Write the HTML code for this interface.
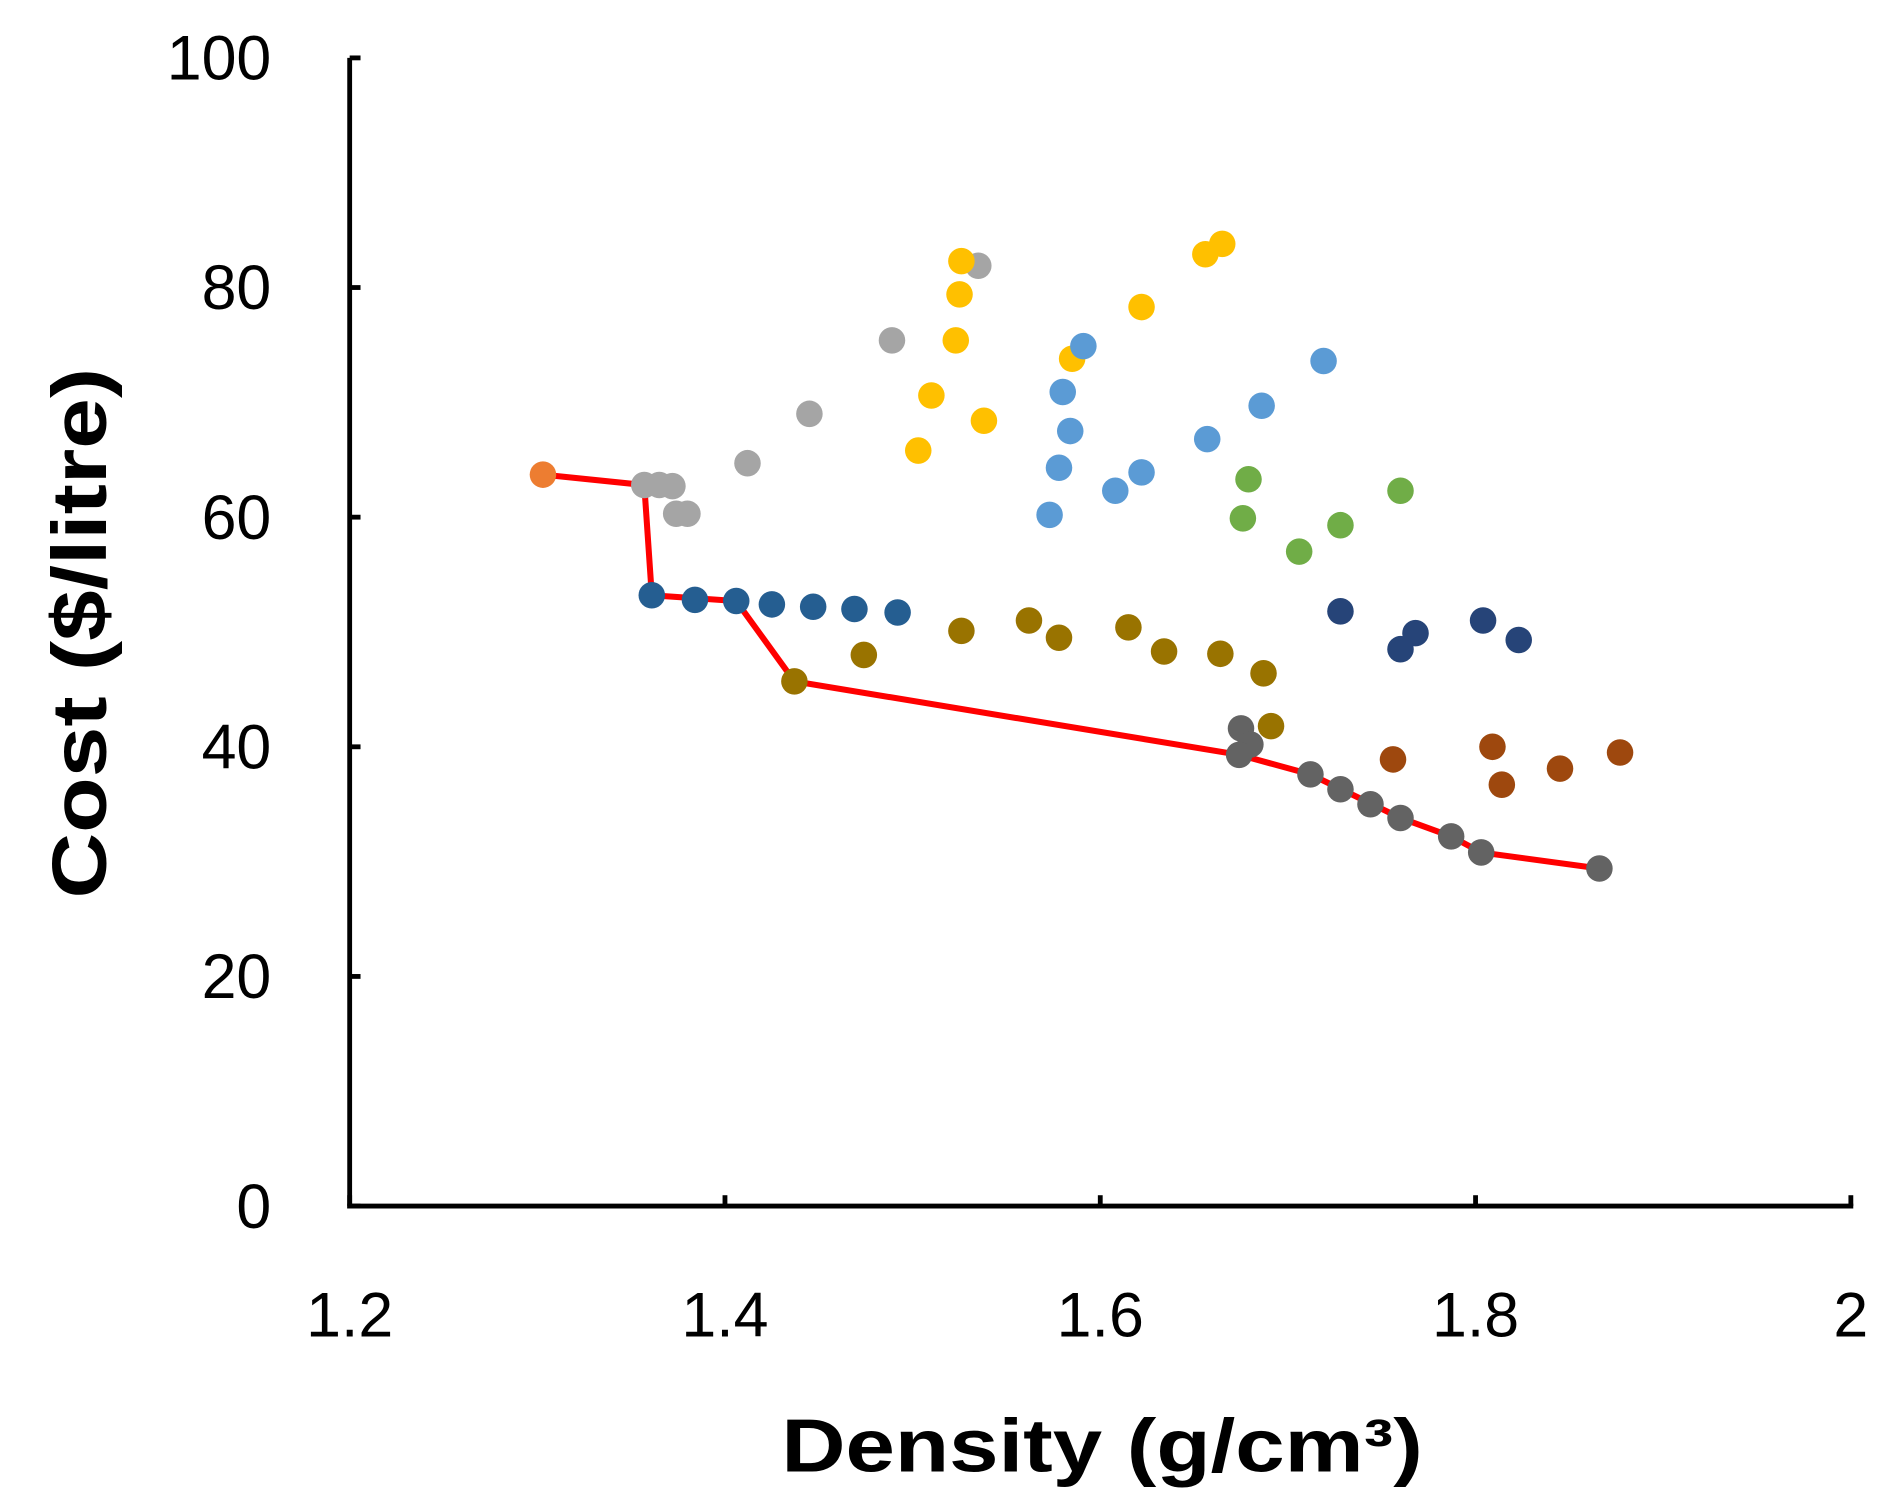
<!DOCTYPE html>
<html><head><meta charset="utf-8"><style>html,body{margin:0;padding:0;background:#fff}svg{display:block}</style></head>
<body>
<svg id="chart" width="1881" height="1510" viewBox="0 0 1560 1252" preserveAspectRatio="none" font-family="'Liberation Sans', sans-serif">
</svg>
<script>
const xTicks=[1.2,1.4,1.6,1.8,2];
const yTicks=[0,20,40,60,80,100];
const xTickLabels=["1.2","1.4","1.6","1.8","2"];
const yTickLabels=["0","20","40","60","80","100"];
const seriesNames=["orange","lightgray","yellow","lightblue","green","steelblue","olive","navy","brown","darkgray"];
const seriesColors=["#ED7D31","#A5A5A5","#FFC000","#5B9BD5","#70AD47","#255E91","#997300","#264478","#9E480E","#636363"];
const orangeX=[1.303];const orangeY=[63.7];
const lightgrayX=[1.357,1.365,1.372,1.374,1.380,1.412,1.445,1.489,1.535];
const lightgrayY=[62.8,62.8,62.7,60.3,60.3,64.7,69.0,75.4,81.9];
const yellowX=[1.526,1.525,1.523,1.510,1.503,1.538,1.585,1.622,1.656,1.665];
const yellowY=[82.3,79.4,75.4,70.6,65.8,68.4,73.8,78.3,82.9,83.8];
const lightblueX=[1.591,1.580,1.584,1.578,1.573,1.608,1.622,1.657,1.686,1.719];
const lightblueY=[74.9,70.9,67.5,64.3,60.2,62.3,63.9,66.8,69.7,73.6];
const greenX=[1.679,1.676,1.706,1.728,1.760];
const greenY=[63.3,59.9,57.0,59.3,62.3];
const steelblueX=[1.361,1.384,1.406,1.425,1.447,1.469,1.492];
const steelblueY=[53.2,52.8,52.7,52.4,52.2,52.0,51.7];
const oliveX=[1.437,1.474,1.526,1.562,1.578,1.615,1.634,1.664,1.687,1.691];
const oliveY=[45.7,48.0,50.1,51.0,49.5,50.4,48.3,48.1,46.4,41.8];
const navyX=[1.728,1.768,1.760,1.804,1.823];
const navyY=[51.8,49.9,48.5,51.0,49.3];
const brownX=[1.756,1.809,1.814,1.845,1.877];
const brownY=[38.9,40.0,36.7,38.1,39.5];
const darkgrayX=[1.675,1.680,1.674,1.712,1.728,1.744,1.760,1.787,1.803,1.866];
const darkgrayY=[41.6,40.2,39.3,37.6,36.3,35.0,33.8,32.2,30.8,29.4];
const frontX=[1.303,1.357,1.361,1.406,1.437,1.674,1.712,1.760,1.787,1.803,1.866];
const frontY=[63.7,62.8,53.2,52.7,45.7,39.3,37.6,33.8,32.2,30.8,29.4];

const seriesX=[orangeX,lightgrayX,yellowX,lightblueX,greenX,steelblueX,oliveX,navyX,brownX,darkgrayX];
const seriesY=[orangeY,lightgrayY,yellowY,lightblueY,greenY,steelblueY,oliveY,navyY,brownY,darkgrayY];
const X0=290,X1=1535,Y0=1000,Y1=48;
function sx(v){return X0+(v-1.2)/0.8*(X1-X0);}
function sy(v){return Y0-(v/100)*(Y0-Y1);}
const NS="http://www.w3.org/2000/svg";
const svg=document.getElementById('chart');
function mk(t,a,p){const e=document.createElementNS(NS,t);for(const k in a)e.setAttribute(k,a[k]);(p||svg).appendChild(e);return e;}

const axes=mk('g',{});


const ya=mk('line',{x1:X0,y1:Y1,x2:X0,y2:Y0+2,stroke:'#000','stroke-width':4},axes);


const xa=mk('line',{x1:X0-2,y1:Y0,x2:X1+2,y2:Y0,stroke:'#000','stroke-width':4},axes);


yTicks.forEach((v,i)=>{
  const t=mk('line',{x1:X0,x2:X0+9,y1:sy(v),y2:sy(v),stroke:'#000','stroke-width':4},axes);
  
  
  const l=mk('text',{x:X0-65,y:sy(v)+18,'text-anchor':'end','font-size':52},axes);
  l.textContent=yTickLabels[i];
  
  
});
xTicks.forEach((v,i)=>{
  const t=mk('line',{x1:sx(v),x2:sx(v),y1:Y0,y2:Y0-9,stroke:'#000','stroke-width':4},axes);
  
  
  const l=mk('text',{x:sx(v),y:1108,'text-anchor':'middle','font-size':52},axes);
  l.textContent=xTickLabels[i];
  
  
});
const xt=mk('text',{x:648,y:1220,'font-size':62,'font-weight':'bold',textLength:532,lengthAdjust:'spacingAndGlyphs'});
xt.textContent='Density (g/cm³)';


const yt=mk('text',{x:-220,y:0,'font-size':64,'font-weight':'bold',textLength:440,lengthAdjust:'spacingAndGlyphs',transform:'translate(88,525) rotate(-90)'});
yt.textContent='Cost ($/litre)';



const front=mk('polyline',{points:frontX.map((x,i)=>sx(x)+','+sy(frontY[i])).join(' '),fill:'none',stroke:'#FF0000','stroke-width':5});



seriesX.forEach((xs,si)=>{
  const g=mk('g',{fill:seriesColors[si]});
  
  
  xs.forEach((x,i)=>{
    const c=mk('ellipse',{cx:sx(x),cy:sy(seriesY[si][i]),rx:11,ry:11},g);
    
    
  });
});
</script>
</body></html>
